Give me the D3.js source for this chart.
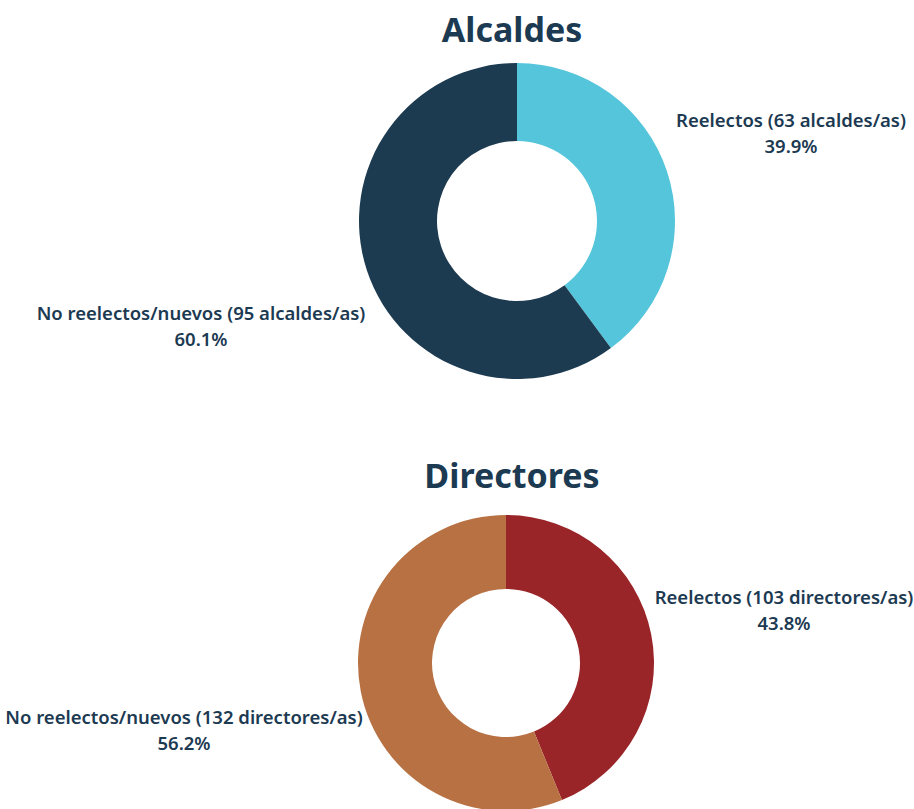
<!DOCTYPE html>
<html>
<head>
<meta charset="utf-8">
<script src="https://cdn.jsdelivr.net/npm/d3@7"></script>
<style>
  body { margin: 0; background: #fff; }
  text { font-family: "Noto Sans", Roboto, sans-serif; fill: #1c3a52; }
</style>
</head>
<body>
<div id="chart"></div>
<script>
// data
var categories = ["Reelectos", "No reelectos/nuevos"];
var alcaldes_values = [63, 95];
var alcaldes_pct = ["39.9%", "60.1%"];
var directores_values = [103, 132];
var directores_pct = ["43.8%", "56.2%"];

var width = 914, height = 809;

var svg = d3.select("#chart").append("svg")
  .attr("width", width)
  .attr("height", height);

function draw_donut(opt){
  var g = svg.append("g");

  g.append("text")
    .attr("x", opt.titleX)
    .attr("y", opt.titleY)
    .attr("text-anchor", "middle")
    .style("font-size", "34px")
    .style("font-weight", "700")
    .text(opt.title);

  var pie = d3.pie().sort(null).value(function(d){ return d; });
  var arc = d3.arc().innerRadius(opt.inner).outerRadius(opt.outer);
  var color = d3.scaleOrdinal().domain(categories).range(opt.colors);

  g.append("g")
    .attr("transform", "translate(" + opt.cx + "," + opt.cy + ")")
    .selectAll("path")
    .data(pie(opt.values))
    .enter().append("path")
    .attr("d", arc)
    .attr("fill", function(d, i){ return color(categories[i]); });

  // labels
  opt.labels.forEach(function(l, i){
    var t = g.append("text")
      .attr("text-anchor", "middle")
      .style("font-size", "18.5px")
      .style("font-weight", "600");
    t.append("tspan")
      .attr("x", l.x).attr("y", l.y)
      .text(categories[i] + " (" + opt.values[i] + " " + opt.unit + ")");
    t.append("tspan")
      .attr("x", l.x).attr("y", l.y + 26)
      .text(opt.pct[i]);
  });
}

draw_donut({
  title: "Alcaldes", titleX: 512, titleY: 42,
  cx: 517, cy: 221, outer: 158, inner: 80,
  values: alcaldes_values, pct: alcaldes_pct, unit: "alcaldes/as",
  colors: ["#54c5da", "#1c3a50"],
  labels: [{x: 791, y: 127}, {x: 201, y: 320}]
});

draw_donut({
  title: "Directores", titleX: 512, titleY: 488,
  cx: 506, cy: 663, outer: 148, inner: 74,
  values: directores_values, pct: directores_pct, unit: "directores/as",
  colors: ["#9a2528", "#b87143"],
  labels: [{x: 784, y: 604}, {x: 184, y: 724}]
});
</script>
</body>
</html>
